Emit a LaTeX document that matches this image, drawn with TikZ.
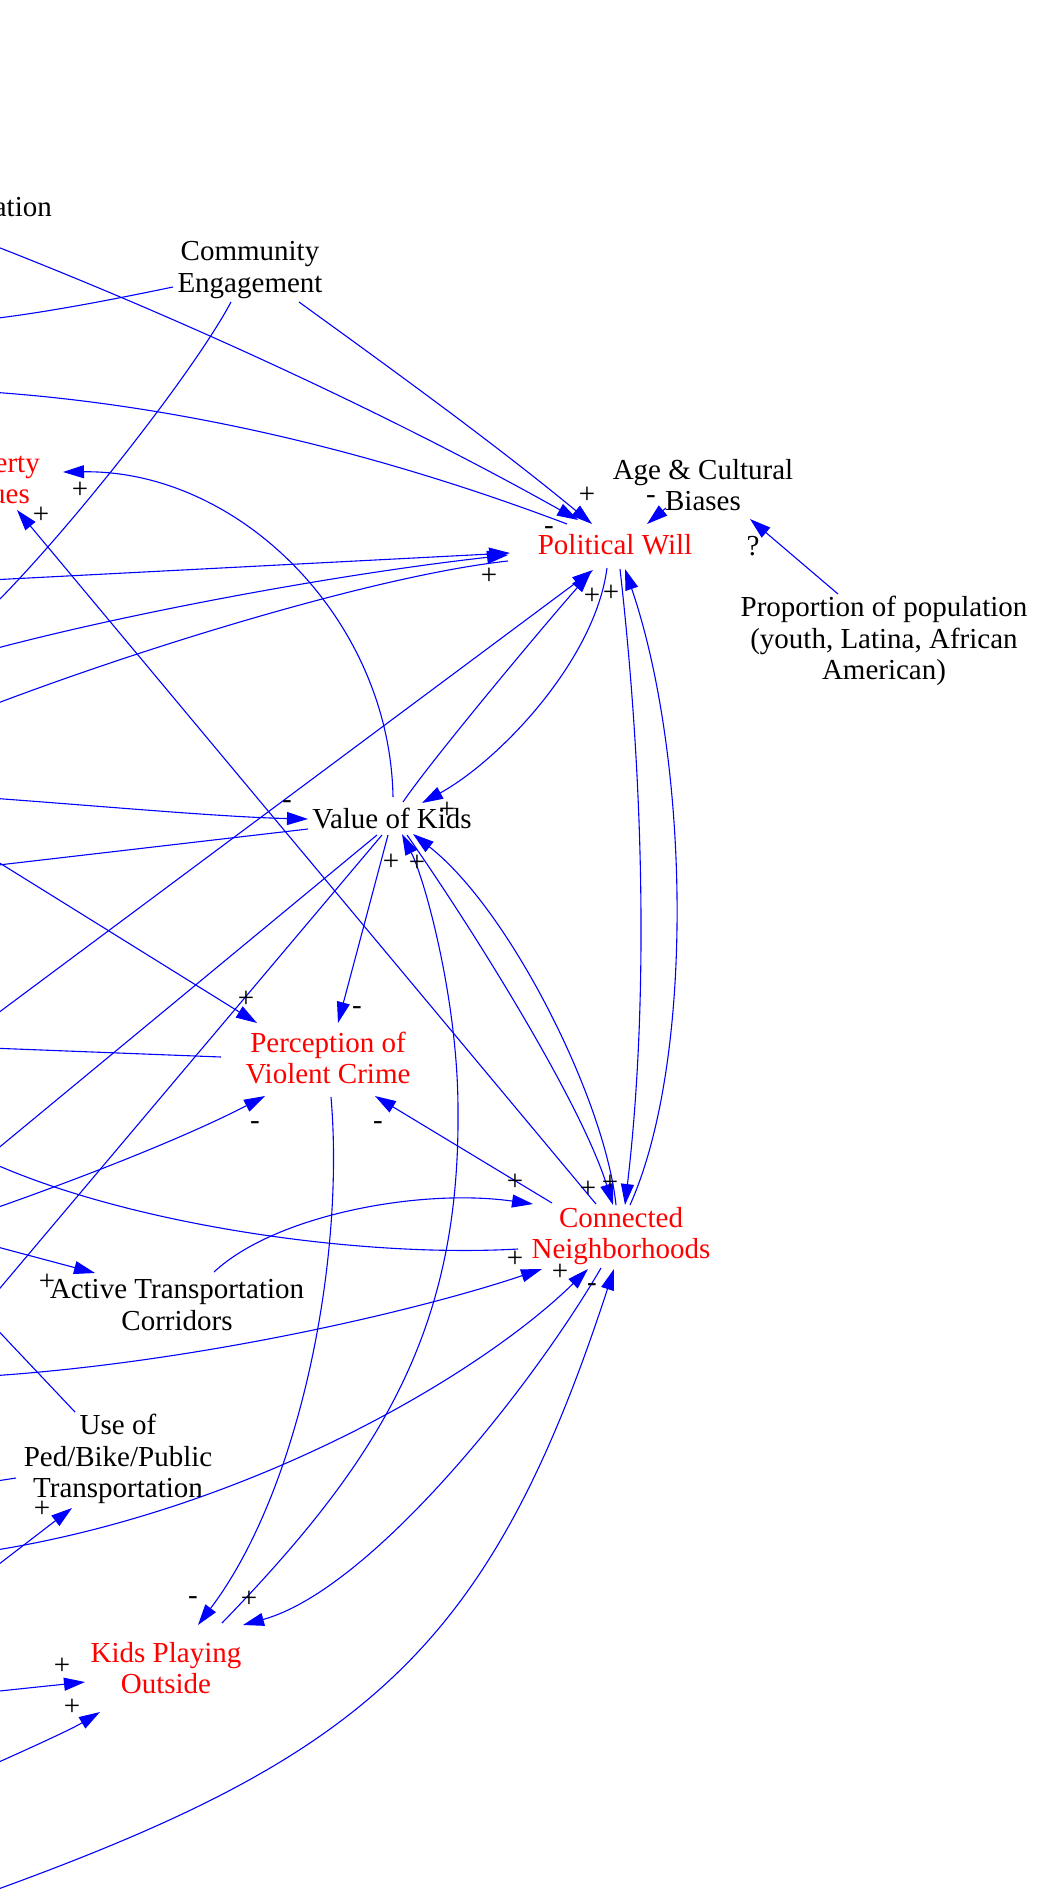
\documentclass[tikz,border=0pt]{standalone}
\usepackage{fontspec}
\setmainfont{Liberation Serif}
\usetikzlibrary{arrows.meta,calc}
\tikzset{
  txt/.style={font=\fontsize{29}{31.5}\selectfont, align=center, inner sep=0pt},
  lab/.style={font=\fontsize{29}{31.5}\selectfont, inner sep=0pt},
  minuslab/.style={lab, yshift=-2.8pt},
  edge/.style={draw=blue, line width=1.1pt},
  arr/.style={edge, -{Triangle[length=21pt,width=13pt]}}
}
\begin{document}
\begin{tikzpicture}[x=1pt,y=-1pt]
\useasboundingbox (0,0) rectangle (1037,1892);
\clip (0,0) rectangle (1037,1892);
% nodes
\node[txt,anchor=base east] (ation) at (52,216) {ation};
\node[txt,red,anchor=base east] (pv) at (40,472) {erty};
\node[txt,red,anchor=base east] (pvb) at (30,503) {ues};
\node[txt] (ce) at (250,270) {Community\\Engagement};
\node[txt] (acb) at (703,485) {Age \& Cultural\\Biases};
\node[txt,red] (pw) at (615,545) {Political Will};
\node[txt] (prop) at (884,641) {Proportion of population\\(youth, Latina, African\\American)};
\node[txt] (vok) at (392,819) {Value of Kids};
\node[txt,red] (pvc) at (328,1058) {Perception of\\Violent Crime};
\node[txt,red] (cn) at (621,1236) {Connected\\Neighborhoods};
\node[txt] (atc) at (177,1305) {Active Transportation\\Corridors};
\node[txt] (upb) at (118,1459) {Use of\\Ped/Bike/Public\\Transportation};
\node[txt,red] (kpo) at (166,1668) {Kids Playing\\Outside};
% off-page ends
\coordinate (o1) at (-10,244);
\coordinate (o2) at (-10,319);
\coordinate (o3) at (-10,392);
\coordinate (o4) at (-10,580);
\coordinate (o5) at (-10,609);
\coordinate (o6) at (-10,650);
\coordinate (o7) at (-10,706);
\coordinate (o8) at (-10,798);
\coordinate (o9) at (-10,866);
\coordinate (o10) at (-10,857);
\coordinate (o11) at (-10,1019);
\coordinate (o12) at (-10,1048);
\coordinate (o13) at (-10,1155);
\coordinate (o14) at (-10,1162);
\coordinate (o15) at (-10,1210);
\coordinate (o16) at (-10,1245);
\coordinate (o17) at (-10,1300);
\coordinate (o18) at (-10,1322);
\coordinate (o19) at (-10,1376);
\coordinate (o20) at (-10,1482);
\coordinate (o21) at (-10,1551);
\coordinate (o22) at (-10,1571);
\coordinate (o23) at (-10,1692);
\coordinate (o24) at (-10,1766);
\coordinate (o25) at (-10,1892);
% edges
\draw[arr] (o1) .. controls (190,322) and (400,420) .. ($(pw)+(-37,-25)$);
\draw[arr] ($(ce)+(49,32)$) .. controls (397,373) and (495,444) .. ($(pw)+(-23,-21)$);
\draw[edge] ($(pw)+(-48,-21)$) .. controls (377,452) and (180,405) .. (o3);
\draw[edge] ($(ce)+(-77,17)$) .. controls (120,298) and (50,312) .. (o2);
\draw[edge] ($(ce)+(-19,32)$) .. controls (195,370) and (70,530) .. (o5);
\draw[arr] (o4) -- ($(pw)+(-105,8)$);
\draw[arr] (o6) .. controls (120,615) and (330,575) .. ($(pw)+(-107,10)$);
\draw[edge] ($(pw)+(-107,16)$) .. controls (380,575) and (150,645) .. (o7);
\draw[arr] (o8) .. controls (100,806) and (220,817) .. ($(vok)+(-84,0)$);
\draw[edge] ($(vok)+(-84,10)$) -- (o9);
\draw[arr] (o10) -- ($(pvc)+(-71,-35)$);
\draw[edge] ($(pvc)+(-107,-1)$) -- (o12);
\draw[arr] (o15) .. controls (90,1175) and (190,1135) .. ($(pvc)+(-63,38)$);
\draw[edge] ($(vok)+(-15,16)$) -- (o13);
\draw[edge] ($(vok)+(-10,16)$) -- (o17);
\draw[arr] (o11) -- ($(pw)+(-22,25)$);
\draw[arr] ($(vok)+(11,-17)$) .. controls (430,762) and (540,630) .. ($(pw)+(-24,27)$);
\draw[arr] ($(pw)+(-8,23)$) .. controls (595,660) and (500,760) .. ($(vok)+(30,-16)$);
\draw[arr] ($(pw)+(5,24)$) .. controls (645,790) and (648,1010) .. ($(cn)+(4,-31)$);
\draw[arr] ($(cn)+(9,-31)$) .. controls (695,1060) and (690,760) .. ($(pw)+(10,24)$);
\draw[arr] ($(vok)+(15,16)$) .. controls (470,925) and (580,1100) .. ($(cn)+(-8,-31)$);
\draw[arr] ($(cn)+(-5,-31)$) .. controls (605,1100) and (510,910) .. ($(vok)+(21,15)$);
\draw[arr] ($(cn)+(-25,-32)$) -- ($(pv.base east)+(-23,38)$);
\draw[arr] ($(vok)+(1,-22)$) .. controls (390,620) and (240,470) .. ($(pv.base east)+(23,0)$);
\draw[arr] ($(atc)+(37,-33)$) .. controls (275,1215) and (420,1188) .. ($(cn)+(-88,-32)$);
\draw[arr] (o16) -- ($(atc)+(-82,-32)$);
\draw[edge] ($(cn)+(-103,13)$) .. controls (360,1258) and (130,1225) .. (o14);
\draw[arr] (o19) .. controls (200,1362) and (420,1310) .. ($(cn)+(-79,33)$);
\draw[arr] (o21) .. controls (250,1510) and (480,1375) .. ($(cn)+(-33,33)$);
\draw[arr] ($(cn)+(-20,32)$) .. controls (530,1390) and (370,1590) .. ($(kpo)+(77,-43)$);
\draw[arr] (o25) .. controls (366,1756) and (490,1649) .. ($(cn)+(-7,33)$);
\draw[arr] ($(pvc)+(3,39)$) .. controls (345,1260) and (300,1490) .. ($(kpo)+(32,-43)$);
\draw[arr] ($(kpo)+(56,-45)$) .. controls (380,1460) and (460,1330) .. (458,1110) .. controls (458,1000) and (425,880) .. ($(vok)+(10,15)$);
\draw[arr] (o23) -- ($(kpo)+(-81,14)$);
\draw[arr] (o24) .. controls (30,1748) and (70,1730) .. ($(kpo)+(-66,44)$);
\draw[arr] (o22) -- ($(upb)+(-46,49)$);
\draw[edge] ($(upb)+(-43,-47)$) -- (o18);
\draw[edge] ($(upb)+(-102,19)$) -- (o20);
\draw[arr] ($(prop)+(-46,-47)$) -- ($(acb)+(47,34)$);
\draw[arr] ($(acb)+(-37,23)$) -- ($(pw)+(32,-21)$);
\draw[arr] ($(cn)+(-69,-33)$) -- ($(pvc)+(47,38)$);
\draw[arr] ($(vok)+(-4,16)$) -- ($(pvc)+(10,-35)$);
% polarity labels
\node[lab] (s1) at (587,495) {+};
\node[minuslab] (s2) at (549,528) {-};
\node[minuslab] (s3) at (651,497) {-};
\node[lab] (s4) at (753,546) {?};
\node[lab] (s5) at (489,576) {+};
\node[lab] (s6) at (592,596) {+};
\node[lab] (s7) at (611,593) {+};
\node[lab] (s8) at (80,490) {+};
\node[lab] (s9) at (41,515) {+};
\node[minuslab] (s10) at (287,802) {-};
\node[lab] (s11) at (447,810) {+};
\node[lab] (s12) at (391,862) {+};
\node[lab] (s13) at (417,863) {+};
\node[lab] (s14) at (246,999) {+};
\node[minuslab] (s15) at (357,1008) {-};
\node[minuslab] (s16) at (255,1123) {-};
\node[minuslab] (s17) at (378,1123) {-};
\node[lab] (s18) at (515,1182) {+};
\node[lab] (s19) at (588,1189) {+};
\node[lab] (s20) at (610,1183) {+};
\node[lab] (s21) at (515,1259) {+};
\node[lab] (s22) at (560,1272) {+};
\node[minuslab] (s23) at (592,1285) {-};
\node[lab] (s24) at (47,1282) {+};
\node[lab] (s25) at (42,1509) {+};
\node[minuslab] (s26) at (193,1598) {-};
\node[lab] (s27) at (249,1599) {+};
\node[lab] (s28) at (62,1666) {+};
\node[lab] (s29) at (72,1707) {+};
\end{tikzpicture}
\end{document}
